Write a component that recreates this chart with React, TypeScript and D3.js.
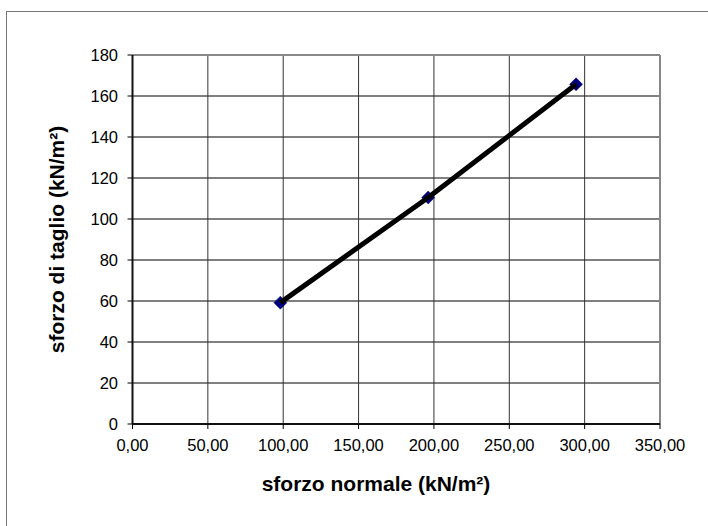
import React from "react";
import * as d3 from "d3";

const normalStress = [98.1, 196.2, 294.3];
const shearStress = [59.2, 110.5, 165.7];
const xTicks = [0, 50, 100, 150, 200, 250, 300, 350];
const yTicks = [0, 20, 40, 60, 80, 100, 120, 140, 160, 180];
const xTitle = "sforzo normale (kN/m²)";
const yTitle = "sforzo di taglio (kN/m²)";

const W = 708;
const H = 526;
const plot = { left: 132.5, right: 660, top: 55, bottom: 424 };
const FONT = "'Liberation Sans', Arial, sans-serif";

export default function App() {
  const x = d3.scaleLinear().domain([0, 350]).range([plot.left, plot.right]);
  const y = d3.scaleLinear().domain([0, 180]).range([plot.bottom, plot.top]);
  const pts = normalStress.map((v, i) => [v, shearStress[i]] as [number, number]);
  const line = d3
    .line<[number, number]>()
    .x((d) => x(d[0]))
    .y((d) => y(d[1]));
  const fmt = (v: number) => v.toFixed(2).replace(".", ",");
  const diamond = (cx: number, cy: number, r: number) =>
    `M${cx},${cy - r}L${cx + r},${cy}L${cx},${cy + r}L${cx - r},${cy}Z`;

  return (
    <svg
      width={W}
      height={H}
      style={{ position: "fixed", left: 0, top: 0, background: "#fff" }}
      fontFamily={FONT}
    >
      <rect x={0} y={0} width={W} height={H} fill="#fff" />
      <rect x={6.5} y={11.5} width={W + 20} height={H + 20} fill="none" stroke="#777" strokeWidth={1} />
      {/* grid */}
      {yTicks.slice(1, -1).map((t) => (
        <line key={"gy" + t} x1={plot.left} x2={plot.right} y1={y(t)} y2={y(t)} stroke="#000" strokeWidth={1} />
      ))}
      {xTicks.slice(1, -1).map((t) => (
        <line key={"gx" + t} x1={x(t)} x2={x(t)} y1={plot.top} y2={plot.bottom} stroke="#333" strokeWidth={1} />
      ))}
      {/* plot border top/right */}
      <line x1={plot.left} x2={plot.right} y1={plot.top} y2={plot.top} stroke="#888" strokeWidth={2} />
      <line x1={plot.right} x2={plot.right} y1={plot.top} y2={plot.bottom} stroke="#888" strokeWidth={2} />
      {/* axes */}
      <line x1={plot.left} x2={plot.left} y1={plot.top} y2={plot.bottom} stroke="#111" strokeWidth={2} />
      <line x1={plot.left} x2={plot.right} y1={plot.bottom} y2={plot.bottom} stroke="#111" strokeWidth={2} />
      {yTicks.map((t) => (
        <g key={"ty" + t}>
          <line x1={plot.left - 5} x2={plot.left} y1={y(t)} y2={y(t)} stroke="#000" strokeWidth={1} />
          <text x={118} y={y(t)} dy="0.36em" textAnchor="end" fontSize={16.5} fill="#000">
            {t}
          </text>
        </g>
      ))}
      {xTicks.map((t) => (
        <g key={"tx" + t}>
          <line x1={x(t)} x2={x(t)} y1={plot.bottom} y2={plot.bottom + 5} stroke="#000" strokeWidth={1} />
          <text x={x(t)} y={451} textAnchor="middle" fontSize={16.5} fill="#000">
            {fmt(t)}
          </text>
        </g>
      ))}
      {/* markers */}
      {pts.map((p, i) => (
        <path key={"m" + i} d={diamond(x(p[0]), y(p[1]), 6.5)} fill="#000080" stroke="#000060" strokeWidth={0.5} />
      ))}
      {/* line */}
      <path d={line(pts) || ""} fill="none" stroke="#000" strokeWidth={5} strokeLinejoin="round" />
      {/* titles */}
      <text x={376} y={491} textAnchor="middle" fontSize={21} fontWeight="bold" fill="#000">
        {xTitle}
      </text>
      <text
        transform={`translate(64,${(plot.top + plot.bottom) / 2}) rotate(-90)`}
        textAnchor="middle"
        fontSize={21}
        fontWeight="bold"
        fill="#000"
      >
        {yTitle}
      </text>
    </svg>
  );
}
